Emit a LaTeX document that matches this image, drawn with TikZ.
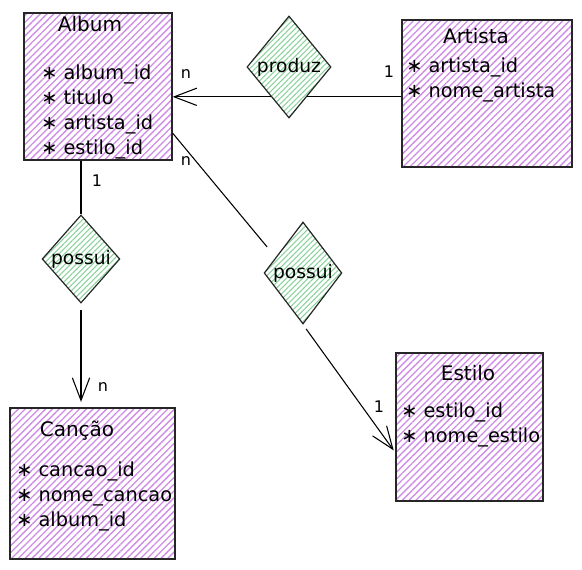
\documentclass[tikz,border=0pt]{standalone}
\usepackage{fontspec}
\setmainfont{DejaVu Sans}
\usetikzlibrary{shapes.geometric}
\usetikzlibrary{arrows.meta}
\usetikzlibrary{patterns.meta}

\definecolor{hatchViolet}{HTML}{CF8CE6}
\definecolor{hatchGreen}{HTML}{8AD29B}

\tikzset{
	entity/.style={draw=black!85, line width=1.1pt, pattern={Lines[angle=45,distance=3.6pt,line width=1pt]}, pattern color=hatchViolet, inner sep=0pt},
	relation/.style={diamond, draw=black!85, line width=0.9pt, pattern={Lines[angle=45,distance=2.9pt,line width=0.8pt]}, pattern color=hatchGreen, inner sep=0pt, font=\fontsize{14pt}{16pt}\selectfont},
	title/.style={font=\fontsize{15pt}{18pt}\selectfont, inner sep=0pt},
	attrs/.style={align=left, inner sep=0pt, font=\fontsize{14.5pt}{18.75pt}\selectfont},
	card/.style={font=\fontsize{12pt}{14pt}\selectfont, inner sep=0pt},
	link/.style={line width=0.8pt},
	arr/.style={link, -{Straight Barb[length=17pt,width=13pt]}}
}

\begin{document}
\begin{tikzpicture}[x=0.75pt, y=-0.75pt]

	%whole sketch, in pixels of the drawing (y down)
	\useasboundingbox (0,0) rectangle (582,570);

	%entity boxes
	\node[entity, minimum width=111pt, minimum height=110.25pt] (album) at (98,86.5) {};
	\node[entity, minimum width=127.5pt, minimum height=110.25pt] (artista) at (487,93.5) {};
	\node[entity, minimum width=110.25pt, minimum height=111pt] (estilo) at (469.5,427) {};
	\node[entity, minimum width=123.75pt, minimum height=113.25pt] (cancao) at (92.5,483.5) {};

	%relationship diamonds
	\node[relation, minimum width=63pt, minimum height=76.5pt] (produz) at (289,67) {produz};
	\node[relation, minimum width=54pt, minimum height=66pt] (possui1) at (81,259) {possui};
	\node[relation, minimum width=57.75pt, minimum height=76.5pt] (possui2) at (303,273) {possui};

	%entity titles
	\node[title] (albumTitle) at (90,24) {Album};
	\node[title] (artistaTitle) at (476,36) {Artista};
	\node[title] (estiloTitle) at (468,373) {Estilo};
	\node[title] (cancaoTitle) at (77,431) {Canção};

	%attribute lists, placed by the baseline of their last line
	\node[attrs, anchor=base west] (albumAttrs) at (41,155) {∗ album\_id\\∗ titulo\\∗ artista\_id\\∗ estilo\_id};
	\node[attrs, anchor=base west] (artistaAttrs) at (406,98) {∗ artista\_id\\∗ nome\_artista};
	\node[attrs, anchor=base west] (estiloAttrs) at (401,442) {∗ estilo\_id\\∗ nome\_estilo};
	\node[attrs, anchor=base west] (cancaoAttrs) at (16,526) {∗ cancao\_id\\∗ nome\_cancao\\∗ album\_id};

	%connectors
	\draw[link] (produz.-59) -- (produz.-59 -| artista.west);
	\draw[arr] (produz.-121) -- (produz.-121 -| album.east);
	\draw[link] (possui1.north |- album.south) -- (possui1.north);
	\draw[arr, shorten <=5pt, shorten >=4pt] (possui1.south) -- (possui1.south |- cancao.north);
	\draw[link, shorten >=10pt] (album.-32) -- (possui2.150);
	\draw[arr, shorten <=4pt, shorten >=2pt] (possui2.south) -- (estilo.199);

	%cardinalities
	\node[card] (nProduz) at (186,74) {n};
	\node[card] (oneProduz) at (389,72) {1};
	\node[card] (onePossuiCancao) at (97,181) {1};
	\node[card] (nPossuiCancao) at (103,387) {n};
	\node[card] (nPossuiEstilo) at (186,161) {n};
	\node[card] (onePossuiEstilo) at (379,407) {1};

\end{tikzpicture}
\end{document}
